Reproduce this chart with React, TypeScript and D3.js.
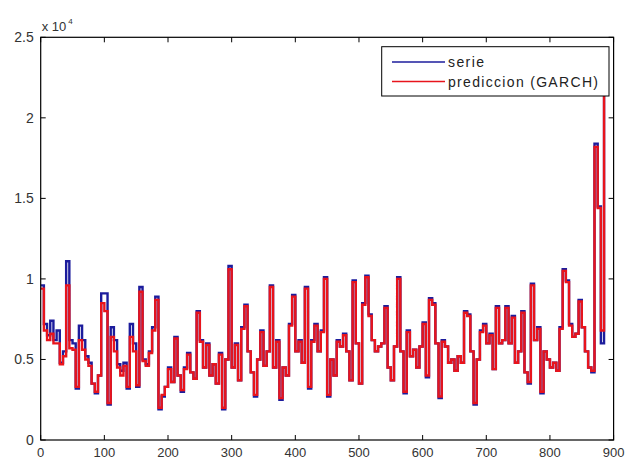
import { useEffect, useRef } from 'react';
import * as d3 from 'd3';

// sample index (every 5 observations), values in units of 10^4
const sampleStep = 5;

const serieValues = [
  0.96, 0.72, 0.65, 0.74, 0.62, 0.68, 0.48, 0.55, 1.11, 0.62,
  0.6, 0.32, 0.71, 0.62, 0.52, 0.48, 0.35, 0.29, 0.4, 0.91,
  0.91, 0.22, 0.7, 0.62, 0.47, 0.43, 0.48, 0.32, 0.72, 0.6,
  0.33, 0.95, 0.5, 0.47, 0.55, 0.7, 0.89, 0.19, 0.27, 0.33,
  0.45, 0.36, 0.64, 0.4, 0.3, 0.45, 0.54, 0.42, 0.38, 0.8,
  0.62, 0.45, 0.6, 0.4, 0.47, 0.35, 0.54, 0.19, 0.5, 1.08,
  0.45, 0.6, 0.37, 0.7, 0.84, 0.55, 0.42, 0.27, 0.5, 0.68,
  0.46, 0.55, 0.96, 0.45, 0.62, 0.25, 0.45, 0.4, 0.72, 0.9,
  0.55, 0.62, 0.48, 0.95, 0.32, 0.62, 0.72, 0.55, 0.68, 1.01,
  0.27, 0.5, 0.4, 0.62, 0.58, 0.66, 0.55, 0.37, 0.99, 0.6,
  0.35, 0.85, 1.02, 0.78, 0.62, 0.55, 0.58, 0.6, 0.83, 0.45,
  0.37, 0.58, 1.01, 0.55, 0.29, 0.68, 0.52, 0.56, 0.45, 0.58,
  0.73, 0.39, 0.88, 0.85, 0.6, 0.26, 0.62, 0.58, 0.48, 0.5,
  0.43, 0.52, 0.48, 0.8, 0.78, 0.55, 0.22, 0.5, 0.68, 0.72,
  0.6, 0.66, 0.44, 0.83, 0.6, 0.62, 0.83, 0.6, 0.77, 0.48,
  0.55, 0.8, 0.42, 0.35, 0.97, 0.62, 0.7, 0.29, 0.55, 0.5,
  0.45, 0.48, 0.43, 0.7, 1.06, 0.99, 0.72, 0.64, 0.66, 0.87,
  0.7, 0.55, 0.45, 0.42, 1.84, 1.45, 0.6, 2.3,
];

const garchValues = [
  0.94, 0.68, 0.62, 0.66, 0.6, 0.6, 0.47, 0.52, 0.96, 0.57,
  0.56, 0.33, 0.62, 0.56, 0.5, 0.46, 0.35, 0.3, 0.4, 0.85,
  0.8, 0.23, 0.64, 0.55, 0.45, 0.4, 0.46, 0.33, 0.64, 0.55,
  0.34, 0.92, 0.49, 0.46, 0.54, 0.68, 0.87, 0.2, 0.28, 0.33,
  0.44, 0.36, 0.63, 0.4, 0.31, 0.44, 0.53, 0.42, 0.38, 0.79,
  0.61, 0.45, 0.59, 0.4, 0.47, 0.35, 0.53, 0.2, 0.5, 1.06,
  0.45, 0.59, 0.37, 0.69, 0.83, 0.55, 0.42, 0.28, 0.5, 0.67,
  0.46, 0.55, 0.95, 0.45, 0.61, 0.26, 0.45, 0.4, 0.71, 0.89,
  0.55, 0.61, 0.48, 0.94, 0.33, 0.61, 0.71, 0.55, 0.67, 1.0,
  0.28, 0.5, 0.4, 0.61, 0.58, 0.65, 0.55, 0.37, 0.98, 0.6,
  0.35, 0.84, 1.01, 0.77, 0.62, 0.55, 0.58, 0.6, 0.82, 0.45,
  0.37, 0.58, 1.0, 0.55, 0.3, 0.67, 0.52, 0.56, 0.45, 0.58,
  0.72, 0.4, 0.87, 0.84, 0.6, 0.27, 0.61, 0.58, 0.48, 0.5,
  0.43, 0.52, 0.48, 0.79, 0.77, 0.55, 0.23, 0.5, 0.67, 0.71,
  0.6, 0.65, 0.44, 0.82, 0.6, 0.62, 0.82, 0.6, 0.76, 0.48,
  0.55, 0.79, 0.42, 0.36, 0.96, 0.62, 0.69, 0.3, 0.55, 0.5,
  0.45, 0.48, 0.43, 0.69, 1.05, 0.98, 0.71, 0.64, 0.66, 0.86,
  0.7, 0.55, 0.45, 0.43, 1.82, 1.44, 0.68, 2.28,
];

const xTicks = [0, 100, 200, 300, 400, 500, 600, 700, 800, 900];
const yTicks = [0, 0.5, 1, 1.5, 2, 2.5];
const yTickLabels = ['0', '0.5', '1', '1.5', '2', '2.5'];
const legendLabels = ['serie', 'prediccion (GARCH)'];
const seriesColors = ['#1c1c9c', '#e8141c'];

const FONT = '"Liberation Sans", Arial, sans-serif';

const App = () => {
  const svgRef = useRef(null);

  useEffect(() => {
    const svg = d3.select(svgRef.current);
    svg.selectAll('*').remove();

    const W = 627;
    const H = 461;
    const left = 40.7;
    const right = 613.6;
    const top = 37.3;
    const bottom = 440;

    svg.attr('width', W).attr('height', H);
    svg.append('rect').attr('width', W).attr('height', H).attr('fill', '#fff');

    const x = d3.scaleLinear().domain([0, 900]).range([left, right]);
    const y = d3.scaleLinear().domain([0, 2.5]).range([bottom, top]);

    const clipId = 'plot-clip';
    svg
      .append('clipPath')
      .attr('id', clipId)
      .append('rect')
      .attr('x', left)
      .attr('y', top)
      .attr('width', right - left)
      .attr('height', bottom - top);

    const line = d3
      .line()
      .x((d, i) => x(i * sampleStep))
      .y((d) => y(d))
      .curve(d3.curveStepAfter);

    const plot = svg.append('g').attr('clip-path', `url(#${clipId})`);

    plot
      .append('path')
      .datum(serieValues)
      .attr('fill', 'none')
      .attr('stroke', seriesColors[0])
      .attr('stroke-width', 2.4)
      .attr('d', line);

    plot
      .append('path')
      .datum(garchValues)
      .attr('fill', 'none')
      .attr('stroke', seriesColors[1])
      .attr('stroke-width', 2.4)
      .attr('d', line);

    // frame
    svg
      .append('rect')
      .attr('x', left)
      .attr('y', top)
      .attr('width', right - left)
      .attr('height', bottom - top)
      .attr('fill', 'none')
      .attr('stroke', '#000')
      .attr('stroke-width', 1.2);

    const tickLen = 5;

    // x ticks (inward, bottom and top)
    xTicks.forEach((t) => {
      svg
        .append('line')
        .attr('x1', x(t))
        .attr('x2', x(t))
        .attr('y1', bottom)
        .attr('y2', bottom - tickLen)
        .attr('stroke', '#000');
      svg
        .append('line')
        .attr('x1', x(t))
        .attr('x2', x(t))
        .attr('y1', top)
        .attr('y2', top + tickLen)
        .attr('stroke', '#000');
      svg
        .append('text')
        .attr('x', x(t))
        .attr('y', bottom + 17)
        .attr('text-anchor', 'middle')
        .attr('font-family', FONT)
        .attr('font-size', '13px')
        .attr('fill', '#333')
        .text(t);
    });

    // y ticks (inward, left and right)
    yTicks.forEach((t, i) => {
      svg
        .append('line')
        .attr('x1', left)
        .attr('x2', left + tickLen)
        .attr('y1', y(t))
        .attr('y2', y(t))
        .attr('stroke', '#000');
      svg
        .append('line')
        .attr('x1', right)
        .attr('x2', right - tickLen)
        .attr('y1', y(t))
        .attr('y2', y(t))
        .attr('stroke', '#000');
      svg
        .append('text')
        .attr('x', left - 7)
        .attr('y', y(t) + 5)
        .attr('text-anchor', 'end')
        .attr('font-family', FONT)
        .attr('font-size', '14px')
        .attr('fill', '#333')
        .text(yTickLabels[i]);
    });

    // exponent label
    const expo = svg
      .append('text')
      .attr('x', left + 1)
      .attr('y', top - 6)
      .attr('font-family', FONT)
      .attr('font-size', '13px')
      .attr('fill', '#333');
    expo.append('tspan').text('x 10');
    expo.append('tspan').attr('dy', -7).attr('dx', 2).attr('font-size', '8px').text('4');

    // legend
    const legend = svg.append('g');
    legend
      .append('rect')
      .attr('x', 381.7)
      .attr('y', 46.7)
      .attr('width', 227.3)
      .attr('height', 49.3)
      .attr('fill', '#fff')
      .attr('stroke', '#000')
      .attr('stroke-width', 1);

    legendLabels.forEach((label, i) => {
      const ly = 62 + i * 19.5;
      legend
        .append('line')
        .attr('x1', 392)
        .attr('x2', 445)
        .attr('y1', ly)
        .attr('y2', ly)
        .attr('stroke', seriesColors[i])
        .attr('stroke-width', 1.5);
      legend
        .append('text')
        .attr('x', 448)
        .attr('y', ly + 5)
        .attr('font-family', FONT)
        .attr('font-size', '14px')
        .attr('fill', '#222')
        .attr('textLength', i === 0 ? 36 : 150)
        .attr('lengthAdjust', 'spacing')
        .text(label);
    });
  }, []);

  return (
    <div style={{ position: 'absolute', top: 0, left: 0 }}>
      <svg ref={svgRef} style={{ display: 'block' }}></svg>
    </div>
  );
};

export default App;
